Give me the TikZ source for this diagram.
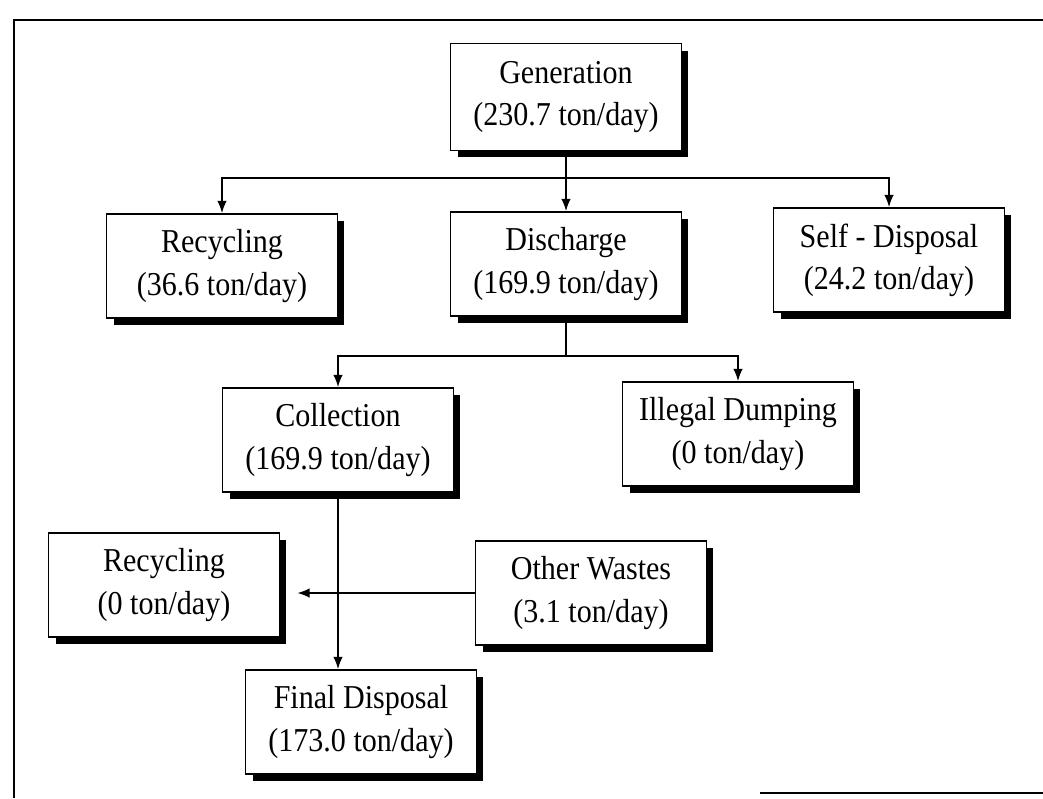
\documentclass[tikz,border=0pt]{standalone}
\usepackage{fontspec}
\setmainfont{Liberation Serif}[FakeStretch=0.9]
\usetikzlibrary{shadows,arrows.meta}

\begin{document}
\begin{tikzpicture}[x=0.02cm,y=-0.02cm,
    wbox/.style={draw,line width=1pt,fill=white,align=center,
        minimum width=4.62cm,minimum height=2.08cm,
        font=\fontsize{19}{24}\selectfont,
        drop shadow={shadow xshift=0.14cm,shadow yshift=-0.14cm,fill=black,opacity=1}},
    flow/.style={-{Latex[length=7pt,width=5.5pt]},line width=1pt}]
    \useasboundingbox (0,0) rectangle (1043,798);
    % frame
    \draw[line width=0.8pt] (1043,20)--(14,20)--(14,798);
    \draw[line width=0.8pt] (760,793)--(1043,793);

    \node[wbox,minimum height=2.14cm] (gen) at (566,97) {Generation\\(230.7 ton/day)};
    \node[wbox] (rec1) at (222,266) {Recycling\\(36.6 ton/day)};
    \node[wbox] (disch) at (566,264) {Discharge\\(169.9 ton/day)};
    \node[wbox] (self) at (889,260) {Self - Disposal\\(24.2 ton/day)};
    \node[wbox] (coll) at (338,440) {Collection\\(169.9 ton/day)};
    \node[wbox] (illeg) at (738,434) {Illegal Dumping\\(0 ton/day)};
    \node[wbox] (rec2) at (164,585) {Recycling\\(0 ton/day)};
    \node[wbox] (other) at (591,593) {Other Wastes\\(3.1 ton/day)};
    \node[wbox] (final) at (361,722) {Final Disposal\\(173.0 ton/day)};

    \coordinate (j1) at (566,178);
    \coordinate (j2) at (566,356);

    \draw[flow] (gen) -- (disch);
    \draw[flow] (j1) -| (rec1.north);
    \draw[flow] (j1) -| (self.north);
    \draw[line width=1pt] (disch) -- (j2);
    \draw[flow] (j2) -| (coll.north);
    \draw[flow] (j2) -| (illeg.north);
    \draw[flow] (coll) -- (coll |- final.north);
    \draw[flow,shorten >=0.34cm] (other) -- (other -| rec2.east);
\end{tikzpicture}
\end{document}
